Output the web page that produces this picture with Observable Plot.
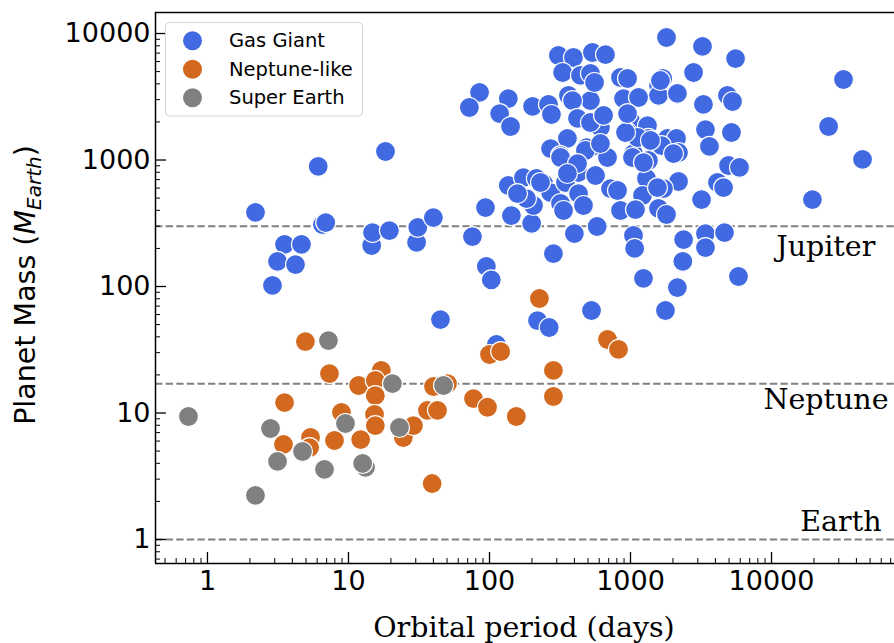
<!DOCTYPE html>
<html><head><meta charset="utf-8">
<script src="https://cdn.jsdelivr.net/npm/d3@7"></script>
<script src="https://cdn.jsdelivr.net/npm/@observablehq/plot@0.6"></script>
<style>
body{margin:0;background:#fff;}
#chart{width:894px;height:643px;overflow:hidden;}
</style></head><body><div id="chart"></div>
<script>
const categories = ["Gas Giant", "Neptune-like", "Super Earth"];
const colors = ["#4169E1", "#D2691E", "#808080"];

const gasPeriod = [1800,3240,5560,32400,25400,44200,19500,308,394,537,665,330,442,520,849,953,1690,1580,1580,2150,2800,3290,4870,5290,892,1140,520,547,612,1000,953,1320,1340,1830,2120,1660,3400,5200,3630,1050,687,520,2190,85,72,136,118,141,202,262,275,363,388,421,520,357,271,319,488,6.1,18.3,2.19,3.52,4.64,3.14,4.21,2.89,6.54,6.9,14.6,14.8,19.5,30.4,31,40,44.9,93.7,136,75.7,95,103,143,199,205,183,174,215,242,271,319,335,346,428,464,428,319,479,565,400,580,284,1033,1340,1298,721,809,1217,849,1085,1580,1800,2190,1714,3190,4140,4570,4955,5930,1050,1070,2380,2350,3400,3400,4640,1236,2150,5830,529,1770,219,265,112,158,556,644,612,421,357,230,1554,1122,2018,1236,922,953,1630,1386];
const gasMass = [9300,7900,6340,4330,1840,1010,487,6700,6460,7080,6820,4920,4660,4830,4490,4410,4410,3880,3240,3360,4920,2750,3240,2900,3060,3120,2950,1940,1810,2050,1650,1870,1480,1480,1480,1300,1740,1650,1280,1125,1047,1255,1146,3420,2600,3060,2330,1840,2650,2750,2290,3240,2950,2130,1980,1480,1230,1085,1255,889,1168,385,215,215,158,149,102,309,320,211,267,277,223,293,351,54.8,421,629,248,144,113,364,315,437,496,727,714,652,553,453,399,664,543,437,797,1047,1189,754,262,298,182,1047,991,714,595,574,524,399,406,414,371,676,595,487,664,606,905,873,253,200,235,158,262,203,267,116,98,120,64.6,64.6,53.8,47.4,34.8,543,4100,2250,1350,938,782,664,606,1507,1125,955,1650,2330,4250,1427];

const neptunePeriod = [4.95,7.33,3.52,11.8,17.1,15.5,15.5,15.3,15.5,8.92,7.96,12.2,5.38,3.46,5.3,24.5,28.9,36.3,42.8,40.1,50.4,77,96.8,39.2,100,120,226,284,284,155,687,822];
const neptuneMass = [36.7,20.5,12.1,16.5,21.7,18.1,13.7,9.73,7.96,10.1,6.06,6.17,6.4,5.64,5.33,6.4,7.96,10.5,10.5,16.2,17.1,13.0,11.1,2.77,29,30.6,80.4,21.7,13.5,9.38,38.1,31.8];

const superPeriod = [0.733,7.21,2.80,3.14,4.72,6.76,2.19,9.52,20.5,23,13.2,12.6,47.2];
const superMass = [9.38,37.4,7.54,4.14,4.96,3.58,2.23,8.26,17.1,7.68,3.71,3.99,16.5];

const refNames = ["Jupiter", "Neptune", "Earth"];
const refMass = [300, 17, 1];
const refLabelPeriod = [10800, 8770, 16000];
const refLabelMass = [207, 12.6, 1.39];

const xTicks = [1, 10, 100, 1000, 10000];
const yTicks = [1, 10, 100, 1000, 10000];
const xDomain = [0.428, 74500];
const yDomain = [0.646, 14660];

function minorTicks(domain) {
  const out = [];
  for (let e = -1; e <= 5; e++) for (let m = 2; m <= 9; m++) {
    const v = m * Math.pow(10, e);
    if (v >= domain[0] && v <= domain[1]) out.push(v);
  }
  return out;
}

const points = [];
[[gasPeriod, gasMass], [neptunePeriod, neptuneMass], [superPeriod, superMass]].forEach(([ps, ms], i) => {
  ps.forEach((p, j) => points.push({period: p, mass: ms[j], type: categories[i]}));
});
const refs = refNames.map((n, i) => ({name: n, mass: refMass[i], lp: refLabelPeriod[i], lm: refLabelMass[i]}));

const plot = Plot.plot({
  width: 894, height: 643,
  marginLeft: 155, marginRight: 0, marginTop: 12, marginBottom: 80,
  x: {type: "log", domain: xDomain},
  y: {type: "log", domain: yDomain},
  color: {domain: categories, range: colors},
  style: {fontFamily: "DejaVu Sans", background: "#fff", color: "#000", overflow: "visible"},
  marks: [
    Plot.ruleY(refs, {y: "mass", stroke: "#808080", strokeWidth: 2, strokeDasharray: "7.4,3.2"}),
    Plot.text(refs, {x: "lp", y: "lm", text: "name", textAnchor: "start", fontFamily: "DejaVu Serif", fontSize: 28.5, fill: "#000"}),
    Plot.dot(points, {x: "period", y: "mass", fill: "type", r: 10, stroke: "white", strokeWidth: 1.2}),
    Plot.axisY({ticks: yTicks, tickSize: -11, tickPadding: 16, tickFormat: d => String(d), fontSize: 27, label: null, strokeWidth: 1.3}),
    Plot.axisY({ticks: minorTicks(yDomain), tickSize: -5, tickFormat: () => "", label: null, strokeWidth: 1}),
    Plot.axisX({ticks: xTicks, tickSize: -11, tickPadding: 18, tickFormat: d => String(d), fontSize: 27, label: null, strokeWidth: 1.3}),
    Plot.axisX({ticks: minorTicks(xDomain), tickSize: -5, tickFormat: () => "", label: null, strokeWidth: 1}),
    Plot.ruleY([yDomain[1]], {stroke: "#000", strokeWidth: 1.5}),
    Plot.ruleY([yDomain[0]], {stroke: "#000", strokeWidth: 1.5}),
    Plot.ruleX([xDomain[0]], {stroke: "#000", strokeWidth: 1.5})
  ]
});
document.getElementById("chart").appendChild(plot);

const svg = d3.select(plot);
// y label
const yl = svg.append("text").attr("transform", "translate(35,285) rotate(-90)")
  .attr("text-anchor", "middle").attr("font-family", "DejaVu Sans").attr("font-size", 28.5).attr("fill", "#000");
yl.append("tspan").text("Planet Mass (");
yl.append("tspan").attr("font-style", "italic").text("M");
yl.append("tspan").attr("font-style", "italic").attr("font-size", 20).attr("dy", 6).text("Earth");
yl.append("tspan").attr("dy", -6).text(")");
// x label
svg.append("text").attr("x", 524).attr("y", 637).attr("text-anchor", "middle")
  .attr("font-family", "DejaVu Serif").attr("font-size", 28.5).attr("fill", "#000").text("Orbital period (days)");
// legend
const lg = svg.append("g");
lg.append("rect").attr("x", 165.5).attr("y", 22.5).attr("width", 197).attr("height", 93.5).attr("rx", 4)
  .attr("fill", "#fff").attr("fill-opacity", 0.8).attr("stroke", "#d6d6d6").attr("stroke-width", 1);
categories.forEach((c, i) => {
  lg.append("circle").attr("cx", 192.5).attr("cy", 40.7 + i * 28.5).attr("r", 9.5).attr("fill", colors[i]);
  lg.append("text").attr("x", 229).attr("y", 47 + i * 28.5).attr("text-anchor", "start").attr("font-family", "DejaVu Sans")
    .attr("font-size", 19.5).attr("fill", "#000").text(c);
});
</script></body></html>
